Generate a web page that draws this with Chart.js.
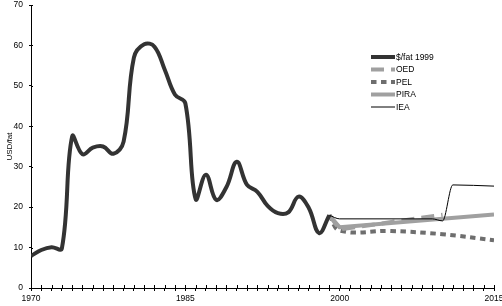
<!DOCTYPE html>
<html>
<head>
<meta charset="utf-8">
<script src="https://cdn.jsdelivr.net/npm/chart.js@4/dist/chart.umd.min.js"></script>
<style>
  html, body { margin: 0; padding: 0; background: #fff; }
  #wrap { width: 502px; height: 306px; }
</style>
</head>
<body>
<div id="wrap"><canvas id="oilChart"></canvas></div>
<script>
// historic price, USD per barrel in 1999 dollars
const years = [1970, 1971, 1972, 1973, 1974, 1975, 1976, 1977, 1978, 1979,
  1980, 1981, 1982, 1983, 1984, 1985, 1986, 1987, 1988, 1989,
  1990, 1991, 1992, 1993, 1994, 1995, 1996, 1997, 1998, 1999];
const priceUsd = [7.9, 9.4, 10.1, 9.8, 37.5, 33.1, 34.7, 35.0, 33.2, 36.2,
  57.0, 60.3, 59.7, 54.0, 47.8, 45.7, 22.0, 28.0, 21.8, 25.0,
  31.2, 25.5, 23.8, 20.3, 18.5, 18.7, 22.6, 19.8, 13.6, 18.0];

// forecasts
const oedYears = [1999, 2000, 2010];
const oedValues = [18.0, 14.5, 18.1];
const pelYears = [1999, 2000, 2005, 2010, 2015];
const pelValues = [18.0, 14.2, 14.1, 13.3, 11.8];
const piraYears = [1999, 2000, 2015];
const piraValues = [18.0, 15.0, 18.2];
const ieaYears = [1999, 2000, 2009, 2010, 2011, 2015];
const ieaValues = [18.0, 17.1, 17.1, 16.6, 25.5, 25.2];

const xLabelYears = [1970, 1985, 2000, 2015];
const yTicks = [0, 10, 20, 30, 40, 50, 60, 70];

const FONT = "'Liberation Sans', Arial, sans-serif";

function pts(xs, ys) {
  return xs.map((x, i) => ({ x: x, y: ys[i] }));
}

// ticks in the reference cross the axis line, draw the inner half
const innerTicks = {
  id: "innerTicks",
  afterDraw(chart) {
    const c = chart.ctx;
    const xs = chart.scales.x;
    const ys = chart.scales.y;
    c.save();
    c.strokeStyle = "#000";
    c.lineWidth = 1;
    c.beginPath();
    xs.ticks.forEach((t, i) => {
      const px = Math.round(xs.getPixelForTick(i)) + 0.5;
      c.moveTo(px, xs.top);
      c.lineTo(px, xs.top - 3);
    });
    ys.ticks.forEach((t, i) => {
      const py = Math.round(ys.getPixelForTick(i)) + 0.5;
      c.moveTo(ys.right, py);
      c.lineTo(ys.right + 2, py);
    });
    c.stroke();
    c.restore();
  },
};

// legend sits inside the plot, to the right
const insideLegend = {
  id: "insideLegend",
  afterDraw(chart) {
    const c = chart.ctx;
    const x0 = 371, x1 = 395;
    let y = 57;
    c.save();
    c.font = "8.5px " + FONT;
    c.textBaseline = "middle";
    c.fillStyle = "#000";
    chart.data.datasets.forEach((ds) => {
      c.beginPath();
      c.strokeStyle = ds.borderColor;
      c.lineWidth = ds.borderWidth;
      c.setLineDash(ds.borderDash || []);
      c.moveTo(x0, y);
      c.lineTo(x1, y);
      c.stroke();
      c.setLineDash([]);
      c.fillText(ds.label, x1 + 1, y + 0.5);
      y += 12.5;
    });
    c.restore();
  },
};

new Chart(document.getElementById("oilChart"), {
  type: "line",
  data: {
    datasets: [
      {
        label: "$/fat 1999",
        data: pts(years, priceUsd),
        borderColor: "#333333",
        borderWidth: 4,
        tension: 0.4,
        order: 1,
      },
      {
        label: "OED",
        data: pts(oedYears, oedValues),
        borderColor: "#a0a0a0",
        borderWidth: 4,
        borderDash: [13, 7],
        tension: 0,
        order: 3,
      },
      {
        label: "PEL",
        data: pts(pelYears, pelValues),
        borderColor: "#6e6e6e",
        borderWidth: 4,
        borderDash: [5.5, 4.5],
        tension: 0.4,
        order: 4,
      },
      {
        label: "PIRA",
        data: pts(piraYears, piraValues),
        borderColor: "#a0a0a0",
        borderWidth: 4,
        tension: 0,
        order: 2,
      },
      {
        label: "IEA",
        data: pts(ieaYears, ieaValues),
        borderColor: "#000000",
        borderWidth: 1,
        cubicInterpolationMode: "monotone",
        order: 0,
      },
    ],
  },
  options: {
    responsive: true,
    maintainAspectRatio: false,
    animation: false,
    layout: { padding: { top: 5, right: 8, left: 0, bottom: 0 } },
    elements: {
      point: { radius: 0, hoverRadius: 0 },
      line: { borderCapStyle: "butt", borderJoinStyle: "round", fill: false },
    },
    plugins: {
      legend: { display: false },
      tooltip: { enabled: false },
    },
    scales: {
      x: {
        type: "linear",
        min: 1970,
        max: 2015,
        afterFit(scale) {
          scale.height = 18;
          scale.paddingLeft = 0;
          scale.paddingRight = 0;
        },
        ticks: {
          stepSize: 1,
          autoSkip: false,
          maxRotation: 0,
          padding: 3,
          color: "#000",
          font: { family: FONT, size: 8.5 },
          callback: (v) => (xLabelYears.includes(v) ? String(v) : ""),
        },
        grid: { drawOnChartArea: false, tickLength: 3, color: "#000" },
        border: { color: "#000", width: 1 },
      },
      y: {
        min: 0,
        max: 70,
        afterFit(scale) {
          scale.width = 31;
          scale.paddingTop = 0;
          scale.paddingBottom = 0;
        },
        afterBuildTicks(scale) {
          scale.ticks = yTicks.map((v) => ({ value: v }));
        },
        ticks: {
          padding: 6,
          color: "#000",
          font: { family: FONT, size: 8.5 },
        },
        grid: { drawOnChartArea: false, tickLength: 2, color: "#000" },
        border: { color: "#000", width: 1 },
        title: {
          display: true,
          text: "USD/fat",
          color: "#000",
          font: { family: FONT, size: 8 },
          padding: { top: 5, bottom: 0 },
        },
      },
    },
  },
  plugins: [innerTicks, insideLegend],
});
</script>
</body>
</html>
